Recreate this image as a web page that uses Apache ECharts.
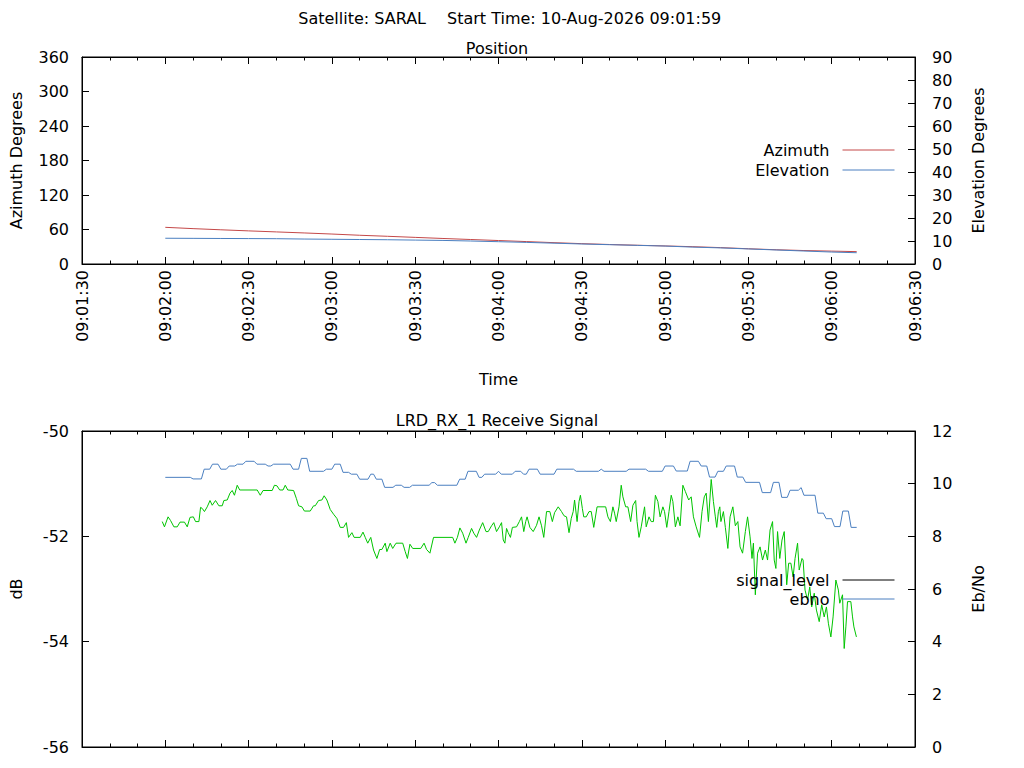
<!DOCTYPE html>
<html>
<head>
<meta charset="utf-8">
<title>SARAL pass</title>
<script src="https://cdn.jsdelivr.net/npm/echarts@6.0.0/dist/echarts.min.js"></script>
<style>
    html, body { margin: 0; padding: 0; background: #fff; }
    #container { width: 1024px; height: 768px; }
</style>
</head>
<body>
<div id="container"></div>
<script>
// all times are seconds after 09:02:00
var BASE = 9 * 3600 + 2 * 60;

// Position
var posTimes = [0, 10, 20, 30, 40, 50, 60, 70, 80, 90, 100, 110, 120,
    130, 140, 150, 160, 170, 180, 190, 200, 210, 220, 230, 240, 249];
var azimuth = [63.8, 61.5, 59.5, 57.6, 55.8, 54.0, 52.1, 50.0, 48.2, 46.3, 44.4, 42.6, 40.8,
    39.0, 37.1, 35.4, 33.9, 32.6, 31.4, 30.1, 28.5, 26.5, 24.8, 23.4, 22.4, 21.5];
var elevation = [11.2, 11.15, 11.1, 11.05, 11.0, 10.85, 10.75, 10.65, 10.55, 10.4, 10.25, 10.0, 9.7,
    9.4, 9.05, 8.7, 8.4, 8.1, 7.8, 7.35, 7.0, 6.55, 6.1, 5.65, 5.2, 4.9];

// Receive signal: ebno (Eb/No axis)
var ebnoTimes = [0, 9, 10, 13, 14, 16, 17, 19, 20, 22,
    23, 25, 26, 28, 29, 32, 33, 36, 37, 38,
    39, 45, 46, 48, 49, 51, 52, 57, 58, 60,
    61, 63, 64, 66, 67, 69, 70, 73, 74, 75,
    76, 78, 79, 82, 83, 85, 86, 88, 89, 95,
    96, 97, 98, 105, 106, 108, 109, 112, 113, 114,
    115, 119, 120, 121, 125, 126, 128, 129, 130, 131,
    134, 135, 140, 141, 147, 148, 156, 157, 158, 166,
    167, 173, 174, 179, 180, 183, 184, 188, 189, 192,
    193, 195, 196, 198, 199, 201, 202, 205, 206, 208,
    209, 214, 215, 218, 219, 221, 222, 224, 225, 228,
    229, 230, 234, 235, 237, 238, 240, 241, 243, 244,
    246, 247, 249];
var ebnoValues = [10.24, 10.24, 10.18, 10.18, 10.55, 10.55, 10.74, 10.74, 10.55, 10.55,
    10.67, 10.67, 10.74, 10.74, 10.85, 10.85, 10.74, 10.74, 10.67, 10.67,
    10.74, 10.74, 10.55, 10.55, 10.96, 10.96, 10.47, 10.47, 10.55, 10.55,
    10.74, 10.74, 10.43, 10.43, 10.36, 10.36, 10.17, 10.17, 10.36, 10.36,
    10.17, 10.17, 9.86, 9.86, 9.94, 9.94, 9.86, 9.86, 9.94, 9.94,
    10.04, 10.04, 9.94, 9.94, 10.17, 10.17, 10.47, 10.47, 10.24, 10.24,
    10.36, 10.36, 10.47, 10.36, 10.36, 10.47, 10.47, 10.36, 10.36, 10.55,
    10.55, 10.36, 10.36, 10.55, 10.55, 10.47, 10.47, 10.55, 10.47, 10.47,
    10.55, 10.55, 10.47, 10.47, 10.67, 10.67, 10.48, 10.48, 10.85, 10.85,
    10.67, 10.67, 10.25, 10.25, 10.47, 10.47, 10.67, 10.67, 10.25, 10.25,
    10.05, 10.05, 9.66, 9.66, 10.05, 10.05, 9.48, 9.48, 9.75, 9.75,
    9.85, 9.56, 9.56, 8.88, 8.88, 8.67, 8.67, 8.37, 8.37, 8.96,
    8.96, 8.34, 8.34];

// Receive signal: signal_level (dB axis)
var levelTimes = [-1.1, -0.3, 1.0, 1.9, 3.1, 4.3, 5.3, 6.9, 7.9, 8.9,
    10.1, 10.9, 12.1, 12.7, 13.3, 14.1, 15.1, 16.1, 16.9, 18.1,
    19.3, 20.5, 21.1, 22.3, 23.3, 24.1, 24.9, 25.9, 26.8, 33.1,
    34.2, 35.2, 38.5, 39.3, 40.2, 41.2, 42.4, 43.2, 44.1, 46.2,
    47.2, 48.0, 49.2, 50.1, 52.2, 53.4, 54.0, 55.2, 56.4, 57.2,
    58.2, 59.4, 60.6, 61.8, 63.0, 64.2, 65.2, 66.0, 67.2, 68.0,
    70.2, 71.2, 72.0, 72.9, 74.0, 75.0, 76.2, 77.2, 78.0, 79.2,
    79.8, 81.0, 81.9, 83.1, 85.5, 86.4, 87.2, 88.1, 89.1, 92.0,
    93.2, 94.1, 95.3, 96.6, 103.5, 104.3, 105.2, 106.1, 107.1, 108.3,
    109.1, 110.3, 111.1, 112.1, 113.1, 114.3, 115.5, 116.3, 117.5, 118.3,
    119.3, 120.3, 121.1, 121.7, 122.3, 122.9, 123.5, 124.3, 125.0, 126.5,
    127.5, 128.3, 129.1, 129.8, 130.3, 131.3, 132.5, 133.7, 134.6, 135.5,
    136.3, 137.3, 138.5, 139.4, 140.2, 141.5, 142.7, 143.6, 144.5, 145.4,
    146.2, 146.9, 147.4, 148.3, 149.0, 149.5, 150.2, 150.7, 151.6, 152.6,
    153.4, 154.3, 155.5, 158.6, 159.4, 160.3, 161.2, 161.8, 162.4, 163.4,
    164.2, 164.8, 165.8, 166.6, 167.6, 168.4, 169.4, 169.9, 170.6, 171.4,
    172.6, 173.2, 174.2, 175.0, 175.8, 176.5, 177.4, 178.2, 179.2, 179.8,
    180.6, 181.4, 182.2, 182.8, 183.7, 184.6, 185.4, 186.4, 187.3, 188.5,
    189.4, 190.2, 191.2, 192.4, 193.3, 194.1, 194.8, 195.6, 196.6, 197.4,
    198.1, 198.6, 199.2, 199.7, 200.1, 201.0, 201.7, 202.6, 203.4, 204.4,
    205.3, 206.2, 207.0, 207.9, 208.9, 209.7, 210.6, 211.3, 211.8, 212.5,
    213.3, 214.2, 215.1, 216.1, 216.9, 217.8, 218.7, 219.3, 219.9, 220.5,
    221.3, 222.1, 222.9, 223.8, 224.5, 225.3, 226.1, 226.8, 227.7, 228.3,
    229.3, 229.7, 230.4, 231.3, 232.1, 232.8, 233.7, 234.5, 235.5, 236.4,
    237.3, 238.1, 238.8, 239.7, 240.5, 241.5, 242.4, 242.9, 243.9, 244.5,
    245.1, 245.7, 246.9, 247.5, 248.0, 248.9];
var levelValues = [-51.72, -51.82, -51.63, -51.70, -51.82, -51.82, -51.73, -51.73, -51.82, -51.64,
    -51.63, -51.72, -51.72, -51.45, -51.47, -51.53, -51.44, -51.32, -51.41, -51.32,
    -51.42, -51.42, -51.32, -51.31, -51.18, -51.13, -51.22, -51.03, -51.12, -51.12,
    -51.22, -51.13, -51.13, -51.03, -51.04, -51.12, -51.12, -51.03, -51.12, -51.13,
    -51.28, -51.42, -51.44, -51.52, -51.52, -51.42, -51.42, -51.32, -51.31, -51.23,
    -51.31, -51.49, -51.58, -51.66, -51.83, -51.83, -51.74, -52.02, -51.93, -52.02,
    -52.02, -51.92, -52.02, -52.13, -52.02, -52.26, -52.42, -52.25, -52.25, -52.13,
    -52.29, -52.13, -52.23, -52.13, -52.13, -52.29, -52.42, -52.15, -52.23, -52.23,
    -52.13, -52.25, -52.32, -52.02, -52.02, -52.13, -52.02, -51.84, -51.94, -52.13,
    -52.02, -51.85, -51.94, -52.02, -51.88, -51.74, -51.91, -51.91, -51.80, -51.74,
    -51.91, -51.82, -51.74, -52.07, -52.13, -51.85, -51.93, -52.02, -51.83, -51.82,
    -51.72, -51.63, -51.91, -51.72, -51.63, -51.83, -51.91, -51.79, -51.63, -51.80,
    -52.02, -51.53, -51.53, -51.72, -51.55, -51.44, -51.53, -51.61, -51.63, -51.93,
    -51.66, -51.53, -51.31, -51.72, -51.34, -51.22, -51.47, -51.63, -51.63, -51.53,
    -51.53, -51.83, -51.44, -51.44, -51.63, -51.72, -51.44, -51.56, -51.72, -51.44,
    -51.03, -51.25, -51.44, -51.44, -51.72, -51.41, -51.32, -51.72, -52.02, -51.82,
    -51.44, -51.82, -51.63, -51.72, -51.72, -51.22, -51.34, -51.63, -51.44, -51.53,
    -51.83, -51.53, -51.22, -51.34, -51.82, -51.63, -51.80, -51.03, -51.15, -51.31,
    -51.25, -51.63, -51.82, -52.02, -51.53, -51.25, -51.18, -51.72, -50.92, -51.34,
    -51.63, -51.83, -51.53, -51.44, -51.72, -51.53, -51.83, -52.23, -51.63, -51.44,
    -51.80, -51.72, -52.20, -52.32, -51.91, -51.63, -52.01, -52.42, -52.13, -53.11,
    -52.32, -52.20, -52.45, -52.26, -52.45, -51.88, -51.72, -52.45, -52.61, -51.91,
    -52.42, -52.07, -51.91, -52.92, -52.51, -52.51, -52.77, -52.42, -52.13, -52.64,
    -52.42, -52.45, -53.02, -53.21, -52.96, -53.34, -53.08, -53.40, -53.62, -53.30,
    -53.53, -53.34, -53.65, -53.91, -53.53, -52.83, -53.02, -53.27, -53.11, -54.13,
    -53.72, -53.24, -53.24, -53.53, -53.72, -53.91];

var FONT = 'DejaVu Sans';
var INK = '#000';
var RED = '#c44848';
var BLUE = '#4a7fc0';
var GREEN = '#00c400';

function pad(n) {
    return n < 10 ? '0' + n : '' + n;
}

function clock(v) {
    var t = BASE + v;
    return pad(Math.floor(t / 3600)) + ':' + pad(Math.floor((t % 3600) / 60)) + ':' + pad(Math.round(t % 60));
}

function pairs(xs, ys) {
    return xs.map(function (x, i) {
        return [x, ys[i]];
    });
}

function font(size) {
    return { fontFamily: FONT, fontSize: size, color: INK, fontWeight: 'normal' };
}

function timeAxis(grid, position, withLabels, name) {
    return {
        type: 'value',
        gridIndex: grid,
        position: position,
        min: -30,
        max: 270,
        interval: 30,
        axisLine: { show: true, onZero: false, lineStyle: { color: INK, width: 1 } },
        axisTick: { show: true, inside: true, length: 7, lineStyle: { color: INK, width: 1 } },
        minorTick: { show: true, splitNumber: 3, length: 3.5, lineStyle: { color: INK, width: 1 } },
        splitLine: { show: false },
        minorSplitLine: { show: false },
        axisLabel: Object.assign({ show: withLabels, rotate: 90, margin: 6, formatter: clock }, font(16)),
        name: name || '',
        nameLocation: 'middle',
        nameGap: 107,
        nameTextStyle: font(16)
    };
}

function valueAxis(grid, position, min, max, step, name, gap) {
    return {
        type: 'value',
        gridIndex: grid,
        position: position,
        min: min,
        max: max,
        interval: step,
        axisLine: { show: true, onZero: false, lineStyle: { color: INK, width: 1 } },
        axisTick: { show: true, inside: true, length: 7, lineStyle: { color: INK, width: 1 } },
        splitLine: { show: false },
        axisLabel: Object.assign({ margin: position === 'left' ? 13 : 17 }, font(16)),
        name: name,
        nameLocation: 'middle',
        nameRotate: 90,
        nameGap: gap,
        nameTextStyle: font(16)
    };
}

function lineSeries(name, xi, yi, data, color) {
    return {
        name: name,
        type: 'line',
        xAxisIndex: xi,
        yAxisIndex: yi,
        data: data,
        symbol: 'none',
        silent: true,
        lineStyle: { color: color, width: 1 },
        itemStyle: { color: color }
    };
}

function subTitle(text, left, top, align) {
    return {
        text: text,
        left: left,
        top: top,
        padding: 0,
        textAlign: align,
        textVerticalAlign: 'top',
        textStyle: font(16)
    };
}

// gnuplot style key: text on the left, plain thin sample line on the right, no marker
function key(names, top, gap) {
    return {
        data: names,
        orient: 'vertical',
        align: 'right',
        right: 129,
        top: top,
        padding: 0,
        itemWidth: 52,
        itemHeight: 14,
        itemGap: gap,
        selectedMode: false,
        itemStyle: { opacity: 0 },
        lineStyle: { width: 1 },
        textStyle: Object.assign({ padding: [0, 8, 0, 0] }, font(16))
    };
}

var chart = echarts.init(document.getElementById('container'), null, { renderer: 'svg' });

chart.setOption({
    animation: false,
    backgroundColor: '#fff',
    title: [
        subTitle('Satellite: SARAL', 426, 10, 'right'),
        subTitle('Start Time: 10-Aug-2026 09:01:59', 447, 10, 'left'),
        subTitle('Position', 497, 40, 'center'),
        subTitle('LRD_RX_1 Receive Signal', 497, 412, 'center')
    ],
    legend: [
        key(['Azimuth', 'Elevation'], 142, 4),
        key([{
            name: 'signal_level',
            itemStyle: { color: INK, opacity: 0 },
            lineStyle: { color: INK, width: 1 }
        }, 'ebno'], 572, 3)
    ],
    grid: [{
        left: 80, right: 109, top: 57, height: 207,
        show: true, borderColor: INK, borderWidth: 1, backgroundColor: 'transparent'
    }, {
        left: 80, right: 109, top: 431, height: 316,
        show: true, borderColor: INK, borderWidth: 1, backgroundColor: 'transparent'
    }],
    xAxis: [
        timeAxis(0, 'bottom', true, 'Time'),
        timeAxis(0, 'top', false),
        timeAxis(1, 'bottom', false),
        timeAxis(1, 'top', false)
    ],
    yAxis: [
        valueAxis(0, 'left', 0, 360, 60, 'Azimuth Degrees', 58),
        valueAxis(0, 'right', 0, 90, 10, 'Elevation Degrees', 55),
        valueAxis(1, 'left', -56, -50, 2, 'dB', 58),
        valueAxis(1, 'right', 0, 12, 2, 'Eb/No', 55)
    ],
    series: [
        lineSeries('Azimuth', 0, 0, pairs(posTimes, azimuth), RED),
        lineSeries('Elevation', 0, 1, pairs(posTimes, elevation), BLUE),
        lineSeries('signal_level', 2, 2, pairs(levelTimes, levelValues), GREEN),
        lineSeries('ebno', 2, 3, pairs(ebnoTimes, ebnoValues), BLUE)
    ]
});
</script>
</body>
</html>
